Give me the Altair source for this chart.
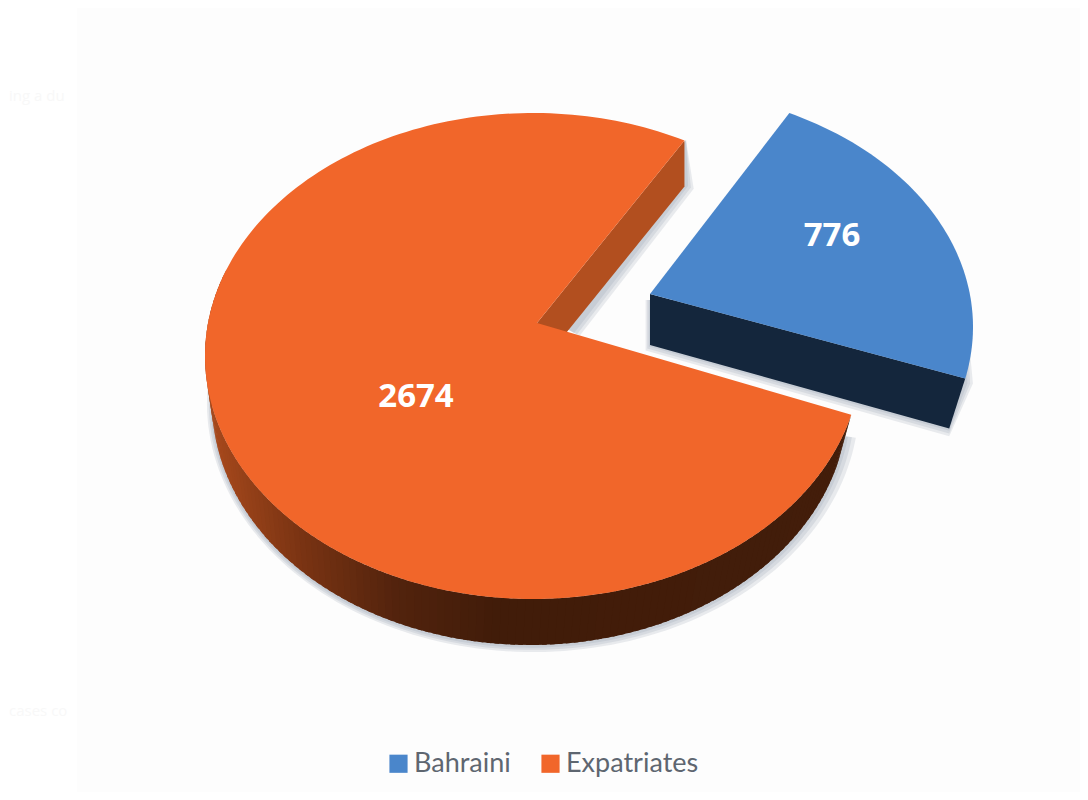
import math
import altair as alt
import pandas as pd

categories = ["Bahraini", "Expatriates"]
values = [776, 2674]
top_colors = ["#4A86CB", "#F1662A"]
label_xy = [(832, 236), (416, 397)]
faint_texts = ["ing a du", "cases co"]

# layout of the drawn pseudo-3D disc (reference pixels)
START_ORANGE = 27.5
START_BLUE = 26.0
PERSPECTIVE = 0.945
ORANGE = dict(cx=533, cy=356, a=328, b=243, ax=537, ay=323)
BLUE = dict(cx=646, cy=327, a=327, b=238, ax=650, ay=294)
FLOOR = dict(cx=530, cy=402, a=318, b=243)

total = sum(values)
blue_span = values[0] / total * 360 * PERSPECTIVE
T1 = START_ORANGE + blue_span
T2 = START_ORANGE + 360
B1 = START_BLUE + blue_span


def pt(e, t):
    r = math.radians(t)
    return (e["cx"] + e["a"] * math.sin(r), e["cy"] - e["b"] * math.cos(r))


def steps(t0, t1, n):
    return [t0 + (t1 - t0) * i / n for i in range(n + 1)]


def wall_color(x):
    stops = [(215, (0xA5, 0x48, 0x1C)), (300, (0x7B, 0x34, 0x13)),
             (400, (0x52, 0x23, 0x0D)), (500, (0x41, 0x1C, 0x09)), (900, (0x43, 0x1D, 0x0A))]
    if x <= stops[0][0]:
        c = stops[0][1]
    else:
        c = stops[-1][1]
        for (x0, c0), (x1, c1) in zip(stops, stops[1:]):
            if x0 <= x <= x1:
                f = (x - x0) / (x1 - x0)
                c = tuple(round(p + (q - p) * f) for p, q in zip(c0, c1))
                break
    return "#%02x%02x%02x" % c


rows = []


def poly(name, color, pts):
    for i, (x, y) in enumerate(pts):
        rows.append(dict(shape=name, fill=color, i=i, x=x, y=y))


c_blue = pt(BLUE, B1)
polys_shadow = []
for k, grow in enumerate((11, 7, 3)):
    e = dict(cx=FLOOR["cx"] + grow * 0.27, cy=FLOOR["cy"] + 1, a=FLOOR["a"] + grow * 0.73, b=FLOOR["b"] + grow * 0.55)
    polys_shadow.append((f"sh{k}", [pt(e, t) for t in steps(98, 285, 110)]))
    # shadow of the blue slab
    polys_shadow.append((f"shb{k}", [(650 - grow * .4, 300), (650 - grow * .4, 345 + grow * .5),
                                     (c_blue[0] - 16, c_blue[1] + 50 + grow * .7),
                                     (c_blue[0] + grow * .7, c_blue[1] + 5), (c_blue[0], 300)]))
    # shadow of the cut wall
    polys_shadow.append((f"shc{k}", [(686, 140), (686 + grow * .7, 185 + grow * .35),
                                     (572 + grow * .7, 332 + grow * .35), (560, 325)]))

for name, pts in polys_shadow:
    poly(name, "#7F8A99", pts)
shadow_df = pd.DataFrame(rows)
rows = []

# outer wall of the large slice: thin strips that overlap a little
wall_steps = steps(T1, 290, 130)
for i, (t0, t1) in enumerate(zip(wall_steps, wall_steps[1:])):
    t1b = t1 + (t1 - t0) * 0.6
    a0, a1 = pt(ORANGE, t0), pt(ORANGE, t1b)
    b0, b1 = pt(FLOOR, t0), pt(FLOOR, t1b)
    poly(f"w{i:03d}", wall_color(a0[0]), [a0, a1, b1, b0])

# cut wall of the large slice
corner = pt(ORANGE, T2)
poly("cut", "#B24F1F", [(ORANGE["ax"], ORANGE["ay"]), corner, (corner[0], corner[1] + 46),
                        (ORANGE["ax"], ORANGE["ay"] + 46)])
# front wall of the pulled-out slice
poly("front", "#14263C", [(BLUE["ax"], BLUE["ay"]), c_blue, (c_blue[0] - 16, c_blue[1] + 50),
                          (BLUE["ax"], BLUE["ay"] + 51)])
# top faces
poly("zorange", top_colors[1], [(ORANGE["ax"], ORANGE["ay"])] + [pt(ORANGE, t) for t in steps(T1, T2, 220)])
poly("zblue", top_colors[0], [(BLUE["ax"], BLUE["ay"])] + [pt(BLUE, t) for t in steps(START_BLUE, B1, 70)])
shape_df = pd.DataFrame(rows)

xs = alt.Scale(domain=[8, 1080], nice=False, zero=False)
ys = alt.Scale(domain=[792, 8], nice=False, zero=False)
X = alt.X("x:Q", scale=xs, axis=None)
Y = alt.Y("y:Q", scale=ys, axis=None)

legend_df = pd.DataFrame({"cat": categories, "x": [l[0] for l in label_xy], "y": [l[1] for l in label_xy],
                          "value": values})
back_df = pd.DataFrame({"x": [77], "x2": [1080], "y": [8], "y2": [792]})
faint_df = pd.DataFrame({"t": faint_texts, "x": [9, 9], "y": [96, 711]})

back = alt.Chart(back_df).mark_rect(color="#FDFDFD").encode(x=X, x2="x2:Q", y=Y, y2="y2:Q")
faint = alt.Chart(faint_df).mark_text(align="left", baseline="middle", font="Open Sans", fontSize=15,
                                      color="#F8F8F8").encode(x=X, y=Y, text="t:N")
keys = alt.Chart(legend_df).mark_square(size=1).encode(
    x=X, y=Y,
    color=alt.Color("cat:N", scale=alt.Scale(domain=categories, range=top_colors),
                    legend=alt.Legend(title=None, orient="none", direction="horizontal", columns=2,
                                      legendX=377, legendY=742, symbolType="square", symbolSize=330,
                                      symbolStrokeWidth=0, labelFont="Lato", labelFontSize=27,
                                      labelColor="#5E6670", columnPadding=26, labelOffset=2,
                                      symbolOpacity=1)),
)
shadow = alt.Chart(shadow_df).mark_line(filled=True, opacity=0.16, strokeWidth=0).encode(
    x=X, y=Y, detail="shape:N", order="i:Q", fill=alt.Fill("fill:N", scale=None))
shapes = alt.Chart(shape_df).mark_line(filled=True, strokeWidth=0).encode(
    x=X, y=Y, detail="shape:N", order="i:Q", fill=alt.Fill("fill:N", scale=None))
labels = alt.Chart(legend_df).mark_text(font="Open Sans", fontWeight="bold", fontSize=33, color="white",
                                        baseline="middle").encode(x=X, y=Y, text="value:N")

chart = alt.layer(back, faint, shadow, keys, shapes, labels).properties(
    width=1072, height=784, padding=0, autosize="none", background="white"
).configure_view(stroke=None)

chart.save("out.html", embed_options={"renderer": "svg", "actions": False})
